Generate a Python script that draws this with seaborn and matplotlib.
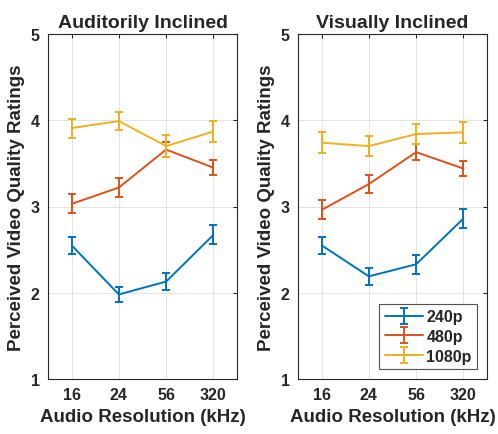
import numpy as np
import pandas as pd
import matplotlib
matplotlib.use("Agg")
import matplotlib.pyplot as plt
import seaborn as sns

# audio resolutions (x categories) and video resolutions (series)
audio_res = ["16", "24", "56", "320"]
video_res = ["240p", "480p", "1080p"]
panels = ["Auditorily Inclined", "Visually Inclined"]

# mean ratings
aud_means = {
    "240p": [2.55, 1.98, 2.13, 2.67],
    "480p": [3.03, 3.22, 3.66, 3.45],
    "1080p": [3.91, 3.99, 3.70, 3.87],
}
aud_err = {
    "240p": [0.10, 0.09, 0.10, 0.11],
    "480p": [0.11, 0.11, 0.09, 0.09],
    "1080p": [0.11, 0.10, 0.13, 0.12],
}
vis_means = {
    "240p": [2.55, 2.19, 2.33, 2.86],
    "480p": [2.96, 3.26, 3.63, 3.44],
    "1080p": [3.74, 3.70, 3.84, 3.86],
}
vis_err = {
    "240p": [0.10, 0.10, 0.11, 0.11],
    "480p": [0.11, 0.10, 0.09, 0.09],
    "1080p": [0.12, 0.12, 0.12, 0.12],
}

# MATLAB default colour order
colors = {"240p": "#0072BD", "480p": "#D95319", "1080p": "#EDB120"}

sns.set_style("white")
plt.rcParams['font.family'] = ['Liberation Sans', 'DejaVu Sans']
plt.rcParams['font.weight'] = 'bold'

fig = plt.figure(figsize=(4.98, 4.35), dpi=100)
ax1 = fig.add_axes([48 / 498, 1 - 380 / 435, 189 / 498, 345 / 435])
ax2 = fig.add_axes([298 / 498, 1 - 380 / 435, 189 / 498, 345 / 435])

x = np.arange(1, len(audio_res) + 1)

for ax, title, means, errs in [(ax1, panels[0], aud_means, aud_err),
                               (ax2, panels[1], vis_means, vis_err)]:
    rows = []
    for v in video_res:
        for i, a in enumerate(audio_res):
            rows.append({"pos": x[i], "rating": means[v][i], "video": v})
    df = pd.DataFrame(rows)

    sns.lineplot(data=df, x="pos", y="rating", hue="video", palette=colors,
                 hue_order=video_res, ax=ax, legend=False, linewidth=1.4,
                 errorbar=None)
    for v in video_res:
        ax.errorbar(x, means[v], yerr=errs[v], fmt='none', ecolor=colors[v],
                    elinewidth=1.4, capsize=3, capthick=1.4)

    ax.set_xlim(0.5, 4.5)
    ax.set_ylim(1, 5)
    ax.set_xticks(x)
    ax.set_xticklabels(audio_res)
    ax.set_yticks([1, 2, 3, 4, 5])
    ax.grid(True, color='#e3e3e3', linewidth=0.7)
    ax.set_axisbelow(True)
    for s in ax.spines.values():
        s.set_color('#262626')
        s.set_linewidth(0.8)
    ax.tick_params(axis='both', direction='in', length=3, width=0.8,
                   color='#262626', labelsize=11.5, top=True, right=True,
                   pad=6)
    for lab in ax.get_xticklabels() + ax.get_yticklabels():
        lab.set_fontweight('bold')
        lab.set_color('#262626')
    ax.set_title(title, fontsize=14, fontweight='bold', pad=5)
    ax.set_xlabel("Audio Resolution (kHz)", fontsize=13.5, fontweight='bold',
                  color='#262626', labelpad=4)
    ax.set_ylabel("Perceived Video Quality Ratings", fontsize=13.5,
                  fontweight='bold', color='#262626', labelpad=4)

# legend with errorbar-style handles
handles = []
for v in video_res:
    h = ax2.errorbar([np.nan], [np.nan], yerr=[0.1], fmt='-', color=colors[v],
                     linewidth=1.4, elinewidth=1.4, capsize=3, capthick=1.4,
                     label=v)
    handles.append(h)
leg = ax2.legend(handles=handles, labels=video_res, loc='lower right',
                 fontsize=11.5, frameon=True, fancybox=False, handlelength=2.4,
                 handletextpad=0.2, borderpad=0.35, labelspacing=0.3,
                 borderaxespad=0.6)
leg.get_frame().set_edgecolor('#262626')
leg.get_frame().set_linewidth(0.8)
for t in leg.get_texts():
    t.set_fontweight('bold')

fig.savefig("out.png", dpi=100)
